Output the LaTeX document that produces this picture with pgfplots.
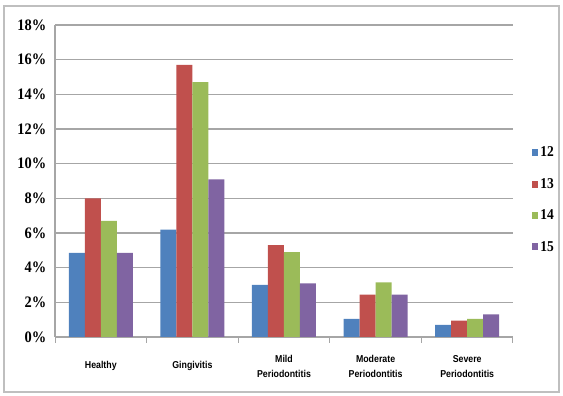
\documentclass[border=0pt]{standalone}
\usepackage{fontspec}
\setmainfont{Liberation Serif}
\newfontfamily\tickfont[FakeStretch=0.9]{Liberation Serif}
\newfontfamily\catfont[FakeStretch=0.88]{Liberation Sans}
\usepackage{pgfplots}
\pgfplotsset{compat=1.18}

\definecolor{s12}{HTML}{4F81BD}
\definecolor{s13}{HTML}{C0504D}
\definecolor{s14}{HTML}{9BBB59}
\definecolor{s15}{HTML}{8064A2}
\definecolor{gridgray}{HTML}{A6A6A6}
\definecolor{framegray}{HTML}{BFBFBF}

\begin{document}
\begin{tikzpicture}[x=1pt,y=1pt]
\useasboundingbox (0,0) rectangle (563,396);
\draw[framegray, line width=1.2pt] (4,4) rectangle (559,390);
\begin{axis}[
  at={(55pt,59pt)}, anchor=south west,
  scale only axis, width=458pt, height=312pt,
  ybar=0pt, bar width=16pt,
  xmin=-0.5, xmax=4.5, ymin=0, ymax=18,
  xtick={0,1,2,3,4},
  xticklabels={Healthy, Gingivitis, Mild\\Periodontitis, Moderate\\Periodontitis, Severe\\Periodontitis},
  minor xtick={-0.5,0.5,1.5,2.5,3.5,4.5},
  major x tick style={draw=none},
  minor x tick style={gridgray, line width=1pt},
  minor tick length=6pt,
  tick align=outside,
  ytick={0,2,...,18},
  major y tick style={draw=none},
  ymajorgrids, grid style={gridgray, line width=1.4pt},
  axis x line*=bottom, axis y line*=left,
  axis line style={gridgray, line width=1.4pt, -},
  /pgf/number format/assume math mode=true,
  yticklabel={\pgfmathprintnumber{\tick}\%},
  yticklabel style={font=\tickfont\fontsize{16}{16}\selectfont\bfseries, xshift=-1pt},
  xticklabel style={font=\catfont\fontsize{10}{15}\selectfont\bfseries, align=center, anchor=center, yshift=-25pt},
  legend style={draw=none, fill=none, at={(1.068,0.44)}, anchor=center,
    font=\tickfont\fontsize{15}{15}\selectfont\bfseries, row sep=16pt, inner sep=0pt},
  legend cell align=left,
  legend image code/.code={\fill[#1,draw=none] (0pt,-3.5pt) rectangle (6pt,3.5pt);},
]
\addplot[fill=s12, draw=none] coordinates {(0,4.85) (1,6.2) (2,3.0) (3,1.05) (4,0.7)};
\addplot[fill=s13, draw=none] coordinates {(0,8.0) (1,15.7) (2,5.3) (3,2.45) (4,0.95)};
\addplot[fill=s14, draw=none] coordinates {(0,6.7) (1,14.7) (2,4.9) (3,3.15) (4,1.05)};
\addplot[fill=s15, draw=none] coordinates {(0,4.85) (1,9.1) (2,3.1) (3,2.45) (4,1.3)};
\legend{12,13,14,15}
\end{axis}
\end{tikzpicture}
\end{document}
